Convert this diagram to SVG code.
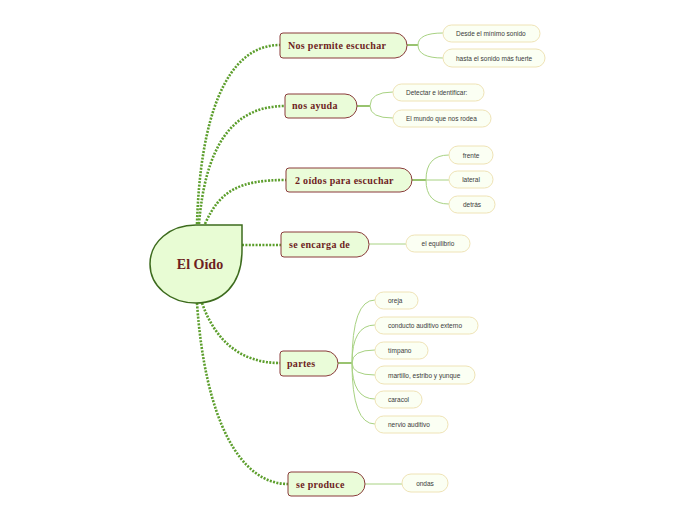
<svg xmlns="http://www.w3.org/2000/svg" width="696" height="520" viewBox="0 0 696 520">
<style>
.main{fill:none;stroke:#5c9e2c;stroke-width:2.6;stroke-dasharray:2 1.4}
.stem{fill:none;stroke:#7fb44c;stroke-width:1.6}
.sub{fill:none;stroke:#a8d282;stroke-width:1}
.br{fill:#eafcd9;stroke:#8a3b3b;stroke-width:1}
.bt{font-family:"Liberation Serif",serif;font-weight:bold;font-size:10px;fill:#6e1f1f;letter-spacing:0.3px}
.lf{fill:#fbfff3;stroke:#efe3b6;stroke-width:1}
.lt{font-family:"Liberation Sans",sans-serif;font-size:6.5px;fill:#3a3a3a}
</style>
<g id="connectors">
<path class="main" d="M197,224 C200,120 225,45 280,45"/>
<path class="main" d="M199,224 C205,150 230,106 285,106"/>
<path class="main" d="M205,224 C220,190 240,180 286,180"/>
<path class="main" d="M242,245 L281,245"/>
<path class="main" d="M202,303 C215,340 240,363 280,363"/>
<path class="main" d="M197,303 C205,420 240,484 288,484"/>
<path class="stem" d="M407,45 H418"/>
<path class="sub" d="M418,45 Q418,33 443,33 M418,45 Q418,58 443,58"/>
<path class="stem" d="M357,106 H370"/>
<path class="sub" d="M370,106 Q370,92 393,92 M370,106 Q370,118 393,118"/>
<path class="stem" d="M412,180 H426"/>
<path class="sub" d="M426,180 Q426,155 449,155 M426,180 H449 M426,180 Q426,204 449,204"/>
<path class="sub" d="M369,244 H406"/>
<path class="stem" d="M338,363 H352"/>
<path class="sub" d="M352,363 Q352,300 375,300 M352,363 Q352,325 375,325 M352,363 Q352,350 375,350 M352,363 Q352,375 375,375 M352,363 Q352,399 375,399 M352,363 Q352,424 375,424"/>
<path class="sub" d="M365,484 H402"/>
</g>
<g id="center">
<path d="M196,225 L242,225 L242,250 C242,285 222,303 196,303 C170,303 150,286 150,264 C150,242 170,225 196,225 Z" fill="#e8fcd4" stroke="#3d6b1e" stroke-width="1.5"/>
<text x="200" y="269" text-anchor="middle" font-family="Liberation Serif,serif" font-weight="bold" font-size="14" fill="#6e1f1f">El Oído</text>
</g>
<g id="b1">
<path class="br" d="M283,33 H395 A12.5,12.5 0 0 1 407,45.5 A12.5,12.5 0 0 1 395,58 H283 Q280,58 280,55 V36 Q280,33 283,33 Z"/>
<text class="bt" x="288" y="49">Nos permite escuchar</text>
</g>
<g id="b2">
<path class="br" d="M288,94 H345 A12,12 0 0 1 357,106 A12,12 0 0 1 345,118 H288 Q285,118 285,115 V97 Q285,94 288,94 Z"/>
<text class="bt" x="292" y="109">nos ayuda</text>
</g>
<g id="b3">
<path class="br" d="M289,168 H400 A12,12 0 0 1 412,180 A12,12 0 0 1 400,192 H289 Q286,192 286,189 V171 Q286,168 289,168 Z"/>
<text class="bt" x="295" y="184">2 oídos para escuchar</text>
</g>
<g id="b4">
<path class="br" d="M284,232 H357 A12.5,12.5 0 0 1 369,244.5 A12.5,12.5 0 0 1 357,257 H284 Q281,257 281,254 V235 Q281,232 284,232 Z"/>
<text class="bt" x="289" y="248">se encarga de</text>
</g>
<g id="b5">
<path class="br" d="M283,351 H326 A12.5,12.5 0 0 1 338,363.5 A12.5,12.5 0 0 1 326,376 H283 Q280,376 280,373 V354 Q280,351 283,351 Z"/>
<text class="bt" x="287" y="367">partes</text>
</g>
<g id="b6">
<path class="br" d="M291,472 H353 A12,12 0 0 1 365,484 A12,12 0 0 1 353,496 H291 Q288,496 288,493 V475 Q288,472 291,472 Z"/>
<text class="bt" x="296" y="488">se produce</text>
</g>
<g id="l1"><rect class="lf" x="443" y="25" width="97" height="17" rx="8.5"/><text class="lt" x="456" y="36">Desde el mínimo sonido</text></g>
<g id="l2"><rect class="lf" x="443" y="49" width="102" height="18" rx="9"/><text class="lt" x="456" y="61">hasta el sonido más fuerte</text></g>
<g id="l3"><rect class="lf" x="393" y="84" width="91" height="17" rx="8.5"/><text class="lt" x="406" y="95">Detectar e identificar:</text></g>
<g id="l4"><rect class="lf" x="393" y="110" width="98" height="17" rx="8.5"/><text class="lt" x="406" y="121">El mundo que nos rodea</text></g>
<g id="l5"><rect class="lf" x="449" y="146" width="44" height="18" rx="9"/><text class="lt" x="471" y="158" text-anchor="middle">frente</text></g>
<g id="l6"><rect class="lf" x="449" y="171" width="44" height="17" rx="8.5"/><text class="lt" x="471" y="182" text-anchor="middle">lateral</text></g>
<g id="l7"><rect class="lf" x="449" y="196" width="46" height="17" rx="8.5"/><text class="lt" x="472" y="207" text-anchor="middle">detrás</text></g>
<g id="l8"><rect class="lf" x="406" y="235" width="64" height="17" rx="8.5"/><text class="lt" x="438" y="246" text-anchor="middle">el equilibrio</text></g>
<g id="l9"><rect class="lf" x="375" y="292" width="43" height="17" rx="8.5"/><text class="lt" x="388" y="303">oreja</text></g>
<g id="l10"><rect class="lf" x="375" y="317" width="103" height="17" rx="8.5"/><text class="lt" x="388" y="328">conducto auditivo externo</text></g>
<g id="l11"><rect class="lf" x="375" y="342" width="53" height="17" rx="8.5"/><text class="lt" x="388" y="353">tímpano</text></g>
<g id="l12"><rect class="lf" x="375" y="366" width="100" height="18" rx="9"/><text class="lt" x="388" y="378">martillo, estribo y yunque</text></g>
<g id="l13"><rect class="lf" x="375" y="391" width="47" height="17" rx="8.5"/><text class="lt" x="388" y="402">caracol</text></g>
<g id="l14"><rect class="lf" x="375" y="416" width="73" height="17" rx="8.5"/><text class="lt" x="388" y="427">nervio auditivo</text></g>
<g id="l15"><rect class="lf" x="402" y="474" width="46" height="18" rx="9"/><text class="lt" x="425" y="486" text-anchor="middle">ondas</text></g>
</svg>
